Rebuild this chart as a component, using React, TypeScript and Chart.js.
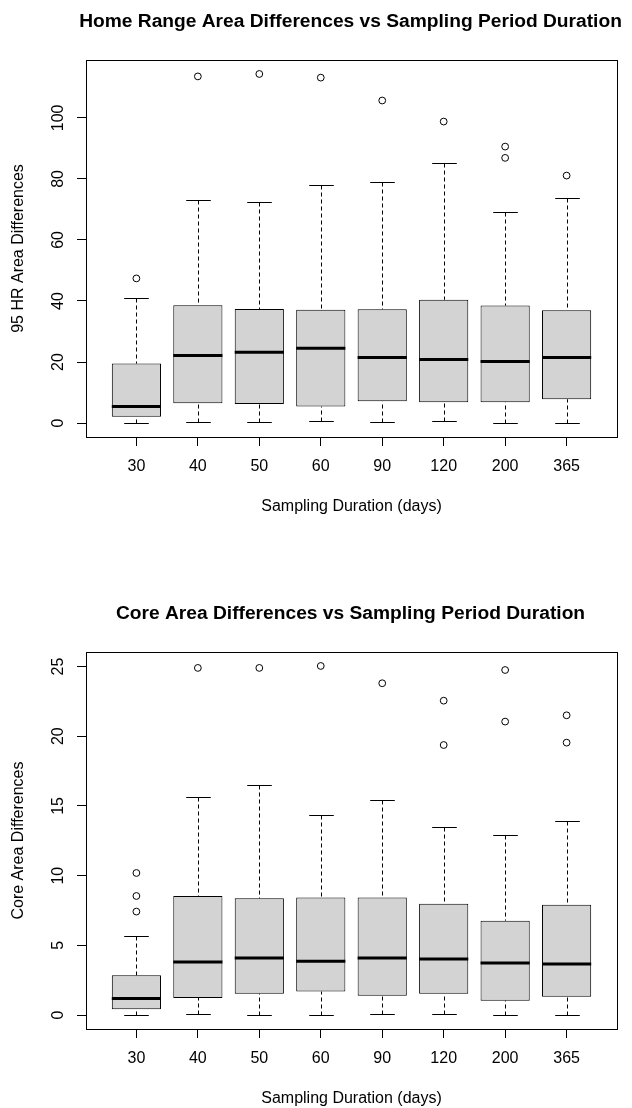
import React, { useEffect, useRef } from "react";
import { Chart, registerables } from "chart.js";

Chart.register(...registerables);

// ---------- data ----------
const categories = ["30", "40", "50", "60", "90", "120", "200", "365"];

// 95% home range area differences
const hrLow = [0, 0.3, 0.3, 0.6, 0.3, 0.6, 0, 0];
const hrQ1 = [2.1, 6.5, 6.2, 5.4, 7.1, 6.8, 6.8, 7.8];
const hrMedian = [5.4, 22.1, 23.2, 24.5, 21.5, 20.8, 20.2, 21.5];
const hrQ3 = [19.5, 38.6, 37.4, 37.1, 37.3, 40.4, 38.5, 37.0];
const hrHigh = [41.0, 73.0, 72.6, 78.1, 79.0, 85.2, 69.0, 73.6];
const hrOutliers = [[47.4], [113.6], [114.4], [113.2], [105.7], [98.8], [90.6, 86.9], [81.1]];
const hrTicks = [0, 20, 40, 60, 80, 100];

// core area differences
const coreLow = [0, 0.07, 0, 0, 0.07, 0.07, 0, 0];
const coreQ1 = [0.41, 1.22, 1.53, 1.68, 1.39, 1.53, 1.03, 1.32];
const coreMedian = [1.18, 3.8, 4.09, 3.85, 4.09, 4.02, 3.73, 3.66];
const coreQ3 = [2.85, 8.54, 8.37, 8.44, 8.44, 7.99, 6.77, 7.92];
const coreHigh = [5.7, 15.64, 16.53, 14.35, 15.45, 13.49, 12.89, 13.92];
const coreOutliers = [[10.19, 8.54, 7.42], [24.9], [24.9], [25.04], [23.8], [22.55, 19.37], [24.75, 21.05], [21.5, 19.54]];
const coreTicks = [0, 5, 10, 15, 20, 25];

const FONT = "'Liberation Sans', Arial, sans-serif";

type Stats = {
  low: number[];
  q1: number[];
  median: number[];
  q3: number[];
  high: number[];
  outliers: number[][];
};

type Cfg = {
  title: string;
  yTitle: string;
  stats: Stats;
  ticks: number[];
  top: number;
  tickPad: number;
};

function makeBoxPlugin(s: Stats, title: string) {
  return {
    id: "rBoxWhiskers",
    afterDatasetsDraw(chart: any) {
      const { ctx, chartArea, scales } = chart;
      const y = scales.y;
      const meta = chart.getDatasetMeta(0);
      ctx.save();
      ctx.beginPath();
      ctx.rect(chartArea.left, chartArea.top, chartArea.width, chartArea.height);
      ctx.clip();
      ctx.strokeStyle = "#000";
      meta.data.forEach((bar: any, i: number) => {
        const cx = Math.round(bar.x) + 0.5;
        const half = bar.width / 2;
        const cap = bar.width / 4;
        const pLow = Math.round(y.getPixelForValue(s.low[i])) + 0.5;
        const pQ1 = y.getPixelForValue(s.q1[i]);
        const pMed = y.getPixelForValue(s.median[i]);
        const pQ3 = y.getPixelForValue(s.q3[i]);
        const pHigh = Math.round(y.getPixelForValue(s.high[i])) + 0.5;
        // dashed whiskers
        ctx.lineWidth = 1;
        ctx.setLineDash([4, 3]);
        ctx.beginPath();
        ctx.moveTo(cx, pHigh);
        ctx.lineTo(cx, pQ3);
        ctx.moveTo(cx, pLow);
        ctx.lineTo(cx, pQ1);
        ctx.stroke();
        ctx.setLineDash([]);
        // staples
        ctx.beginPath();
        ctx.moveTo(cx - cap, pHigh);
        ctx.lineTo(cx + cap, pHigh);
        ctx.moveTo(cx - cap, pLow);
        ctx.lineTo(cx + cap, pLow);
        ctx.stroke();
        // median
        ctx.lineWidth = 3;
        ctx.beginPath();
        ctx.moveTo(bar.x - half, pMed);
        ctx.lineTo(bar.x + half, pMed);
        ctx.stroke();
      });
      ctx.restore();
    },
    afterDraw(chart: any) {
      const { ctx, chartArea } = chart;
      ctx.save();
      ctx.strokeStyle = "#000";
      ctx.lineWidth = 1;
      const l = Math.round(chartArea.left) + 0.5;
      const t = Math.round(chartArea.top) + 0.5;
      ctx.strokeRect(l, t, Math.round(chartArea.width), Math.round(chartArea.height));
      // main title, centred on the plot region
      ctx.fillStyle = "#000";
      ctx.font = `bold 19.2px ${FONT}`;
      ctx.textAlign = "center";
      ctx.textBaseline = "middle";
      ctx.fillText(title, (chartArea.left + chartArea.right) / 2 - 1, chartArea.top - 38.5);
      ctx.restore();
    },
  };
}

function buildConfig(c: Cfg): any {
  const s = c.stats;
  const allVals = [...s.low, ...s.high, ...s.outliers.flat()];
  const lo = Math.min(...allVals);
  const hi = Math.max(...allVals);
  const ext = (hi - lo) * 0.04;
  const n = categories.length;
  const xExt = n * 0.04;

  const boxData = categories.map((_, i) => ({ x: i + 1, y: [s.q1[i], s.q3[i]] }));
  const outlierData = s.outliers.flatMap((vals, i) => vals.map((v) => ({ x: i + 1, y: v })));

  return {
    type: "bar",
    data: {
      datasets: [
        {
          type: "bar",
          data: boxData,
          backgroundColor: "#D3D3D3",
          borderColor: "#000",
          borderWidth: 1,
          borderSkipped: false,
          barPercentage: 0.8,
          categoryPercentage: 1,
        },
        {
          type: "scatter",
          data: outlierData,
          pointStyle: "circle",
          pointRadius: 3.4,
          pointBorderWidth: 1,
          pointBorderColor: "#000",
          pointBackgroundColor: "rgba(0,0,0,0)",
        },
      ],
    },
    plugins: [makeBoxPlugin(s, c.title)],
    options: {
      responsive: false,
      animation: false,
      events: [],
      layout: { padding: { left: 0, right: 15, top: 60, bottom: 0 } },
      plugins: {
        legend: { display: false },
        tooltip: { enabled: false },
        title: { display: false },
      },
      scales: {
        x: {
          type: "linear",
          min: 0.5 - xExt,
          max: n + 0.5 + xExt,
          offset: false,
          afterBuildTicks: (sc: any) => {
            sc.ticks = categories.map((_, i) => ({ value: i + 1 }));
          },
          afterFit: (sc: any) => {
            sc.height = 79;
          },
          grid: {
            offset: false,
            drawOnChartArea: false,
            drawTicks: true,
            tickLength: 9,
            color: "#000",
            tickColor: "#000",
          },
          border: { display: false },
          ticks: {
            autoSkip: false,
            maxRotation: 0,
            minRotation: 0,
            padding: 11,
            color: "#000",
            font: { family: FONT, size: 16 },
            callback: (v: number) => categories[Math.round(v) - 1],
          },
          title: {
            display: true,
            text: "Sampling Duration (days)",
            color: "#000",
            font: { family: FONT, size: 16 },
            padding: { top: 0, bottom: 0 },
          },
        },
        y: {
          type: "linear",
          min: lo - ext,
          max: hi + ext,
          afterBuildTicks: (sc: any) => {
            sc.ticks = c.ticks.map((v) => ({ value: v }));
          },
          afterFit: (sc: any) => {
            sc.width = 86;
          },
          grid: {
            drawOnChartArea: false,
            drawTicks: true,
            tickLength: 9,
            color: "#000",
            tickColor: "#000",
          },
          border: { display: false },
          ticks: {
            autoSkip: false,
            minRotation: 90,
            maxRotation: 90,
            crossAlign: "center",
            padding: c.tickPad,
            color: "#000",
            font: { family: FONT, size: 16 },
          },
          title: {
            display: true,
            text: c.yTitle,
            color: "#000",
            font: { family: FONT, size: 16 },
            padding: { top: 9.2, bottom: 0 },
          },
        },
      },
    },
  };
}

const charts: Cfg[] = [
  {
    title: "Home Range Area Differences vs Sampling Period Duration",
    yTitle: "95 HR Area Differences",
    stats: { low: hrLow, q1: hrQ1, median: hrMedian, q3: hrQ3, high: hrHigh, outliers: hrOutliers },
    ticks: hrTicks,
    top: 0,
    tickPad: 5.2,
  },
  {
    title: "Core Area Differences vs Sampling Period Duration",
    yTitle: "Core Area Differences",
    stats: { low: coreLow, q1: coreQ1, median: coreMedian, q3: coreQ3, high: coreHigh, outliers: coreOutliers },
    ticks: coreTicks,
    top: 592,
    tickPad: 9.6,
  },
];

function BoxChart({ cfg }: { cfg: Cfg }) {
  const ref = useRef<HTMLCanvasElement>(null);
  useEffect(() => {
    if (!ref.current) return;
    const chart = new Chart(ref.current, buildConfig(cfg));
    return () => chart.destroy();
  }, [cfg]);
  return (
    <canvas
      ref={ref}
      width={632}
      height={516}
      style={{ position: "absolute", left: 0, top: cfg.top, width: 632, height: 516 }}
    />
  );
}

export default function App() {
  return (
    <div
      style={{
        position: "absolute",
        left: 0,
        top: 0,
        width: 632,
        height: 1108,
        background: "#fff",
        overflow: "hidden",
      }}
    >
      {charts.map((c, i) => (
        <BoxChart key={i} cfg={c} />
      ))}
    </div>
  );
}
